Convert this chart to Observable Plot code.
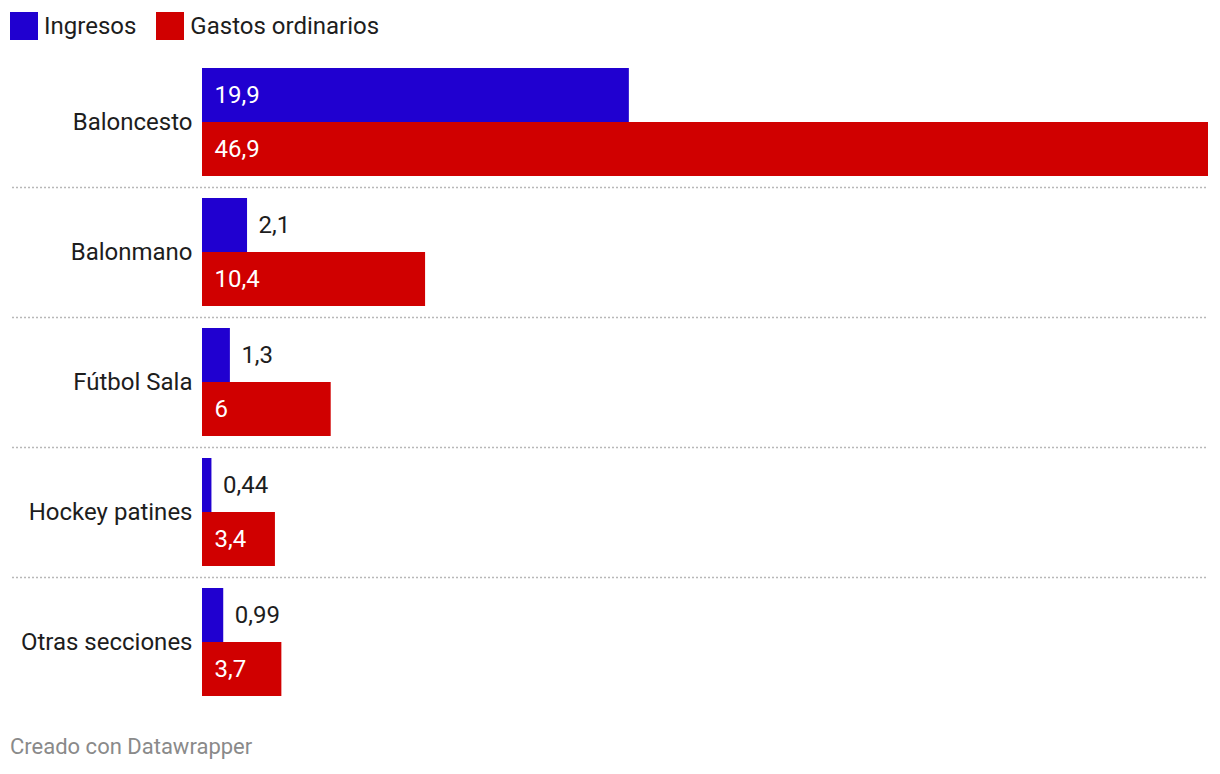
<!DOCTYPE html>
<html>
<head>
<meta charset="utf-8">
<script src="https://cdn.jsdelivr.net/npm/d3@7"></script>
<script src="https://cdn.jsdelivr.net/npm/@observablehq/plot@0.6"></script>
<style>
  html, body { margin: 0; padding: 0; background: #fff; }
  body { width: 1220px; height: 774px; position: relative; font-family: Roboto, "Noto Sans", sans-serif; overflow: hidden; }
  #legend { position: absolute; left: 10px; top: 12px; display: flex; align-items: center; font-size: 24px; color: #1d1d1d; }
  .item { display: flex; align-items: center; margin-right: 20px; }
  .sw { width: 28px; height: 28px; margin-right: 6px; }
  #chart { position: absolute; left: 0; top: 0; }
  #footer { position: absolute; left: 10px; top: 734px; font-size: 22px; color: #8a8a8a; }
</style>
</head>
<body>
<div id="chart"></div>
<div id="legend"></div>
<div id="footer">Creado con Datawrapper</div>
<script>
const categories = ["Baloncesto", "Balonmano", "Fútbol Sala", "Hockey patines", "Otras secciones"];
const series = ["Ingresos", "Gastos ordinarios"];
const ingresos = [19.9, 2.1, 1.3, 0.44, 0.99];
const gastos = [46.9, 10.4, 6, 3.4, 3.7];
const colors = ["#2000d0", "#d00000"];

const rows = [];
categories.forEach((c, i) => {
  rows.push({category: c, series: series[0], value: ingresos[i]});
  rows.push({category: c, series: series[1], value: gastos[i]});
});
const fmt = v => String(v).replace(".", ",");
const inside = d => d.value >= 3;

const legend = document.getElementById("legend");
series.forEach((s, i) => {
  const it = document.createElement("div");
  it.className = "item";
  it.innerHTML = `<div class="sw" style="background:${colors[i]}"></div><span>${s}</span>`;
  legend.appendChild(it);
});

const plot = Plot.plot({
  width: 1220,
  height: 720,
  marginTop: 57,
  marginBottom: 13,
  marginLeft: 202,
  marginRight: 12,
  style: {fontFamily: "Roboto, 'Noto Sans', sans-serif", background: "transparent"},
  x: {domain: [0, d3.max(gastos)], axis: null},
  y: {domain: series, paddingInner: 0, paddingOuter: 11 / 54, axis: null},
  fy: {domain: categories, padding: 0, axis: null},
  color: {domain: series, range: colors},
  marks: [
    Plot.ruleY(categories.slice(1), {fy: d => d, y: () => series[0], dy: -38, insetLeft: -190, stroke: "#b8b8b8", strokeWidth: 1.3, strokeDasharray: "2,2"}),
    Plot.barX(rows, {fy: "category", y: "series", x: "value", fill: "series"}),
    Plot.text(rows.filter(inside), {fy: "category", y: "series", x: 0, text: d => fmt(d.value), dx: 12, textAnchor: "start", fill: "#fff", fontSize: 24}),
    Plot.text(rows.filter(d => !inside(d)), {fy: "category", y: "series", x: "value", text: d => fmt(d.value), dx: 11, textAnchor: "start", fill: "#1d1d1d", fontSize: 24}),
    Plot.text(categories, {fy: d => d, text: d => d, frameAnchor: "left", dx: -10, textAnchor: "end", fill: "#1d1d1d", fontSize: 24})
  ]
});
document.getElementById("chart").appendChild(plot);
</script>
</body>
</html>
